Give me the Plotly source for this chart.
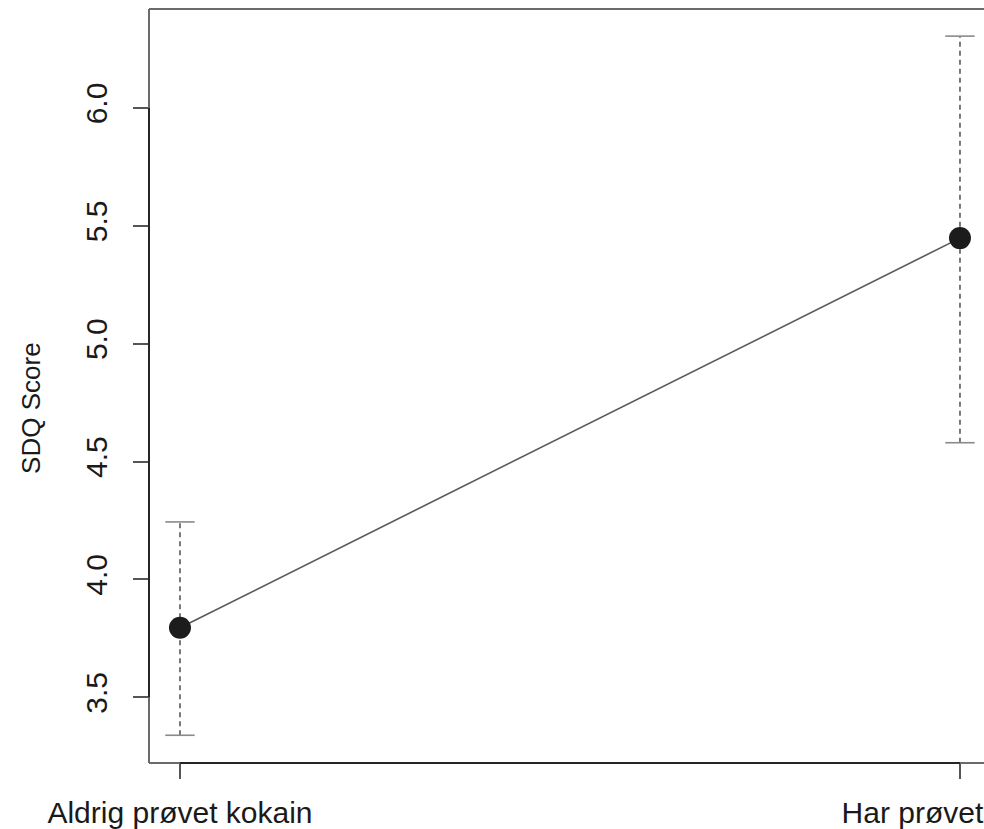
import plotly.graph_objects as go

# ---- data ----
categories = ["Aldrig prøvet kokain", "Har prøvet kokain"]
x_pos = [1, 2]
means = [3.795, 5.448]
upper = [4.244, 6.305]
lower = [3.339, 4.580]
y_ticks = [3.5, 4.0, 4.5, 5.0, 5.5, 6.0]
y_tick_labels = ["3.5", "4.0", "4.5", "5.0", "5.5", "6.0"]
y_title = "SDQ Score"

FONT = "Liberation Sans, Arial, sans-serif"
DARK = "#262626"
BOX = "#6a6a6a"
GREY = "#595959"

fig = go.Figure()

# dashed error-bar stems
for xi, lo, hi in zip(x_pos, lower, upper):
    fig.add_trace(go.Scatter(
        x=[xi, xi], y=[lo, hi], mode="lines",
        line=dict(color=GREY, width=1.6, dash="5px,4px"),
        hoverinfo="skip", showlegend=False))

# caps
fig.add_trace(go.Scatter(
    x=x_pos + x_pos, y=upper + lower, mode="markers",
    marker=dict(symbol="line-ew-open", size=21, color="#8a8a8a",
                line=dict(color="#8a8a8a", width=1.6)),
    hoverinfo="skip", showlegend=False))

# connecting line + points
fig.add_trace(go.Scatter(
    x=x_pos, y=means, mode="lines",
    line=dict(color=GREY, width=1.6),
    showlegend=False))
fig.add_trace(go.Scatter(
    x=x_pos, y=means, mode="markers",
    marker=dict(color="#1c1c1c", size=22, line=dict(width=0)),
    showlegend=False))

# box (grey) and axis segments (dark), R style
shapes = [
    dict(type="line", xref="paper", yref="paper", x0=0, x1=0, y0=0, y1=1,
         line=dict(color=BOX, width=2)),
    dict(type="line", xref="paper", yref="paper", x0=0, x1=1, y0=1, y1=1,
         line=dict(color=BOX, width=2)),
    dict(type="line", xref="paper", yref="paper", x0=0, x1=1, y0=0, y1=0,
         line=dict(color=BOX, width=2)),
    dict(type="line", xref="paper", yref="y", x0=0, x1=0,
         y0=y_ticks[0], y1=y_ticks[-1], line=dict(color=DARK, width=2)),
    dict(type="line", xref="x", yref="paper", x0=x_pos[0], x1=x_pos[-1],
         y0=0, y1=0, line=dict(color=DARK, width=2)),
]

fig.update_layout(
    width=984, height=829,
    margin=dict(l=149, r=0, t=9, b=66, pad=0),
    paper_bgcolor="white", plot_bgcolor="white",
    font=dict(family=FONT, color="#1a1a1a"),
    shapes=shapes,
    showlegend=False,
    xaxis=dict(
        range=[0.9603, 2.0308],
        tickmode="array", tickvals=x_pos, ticktext=categories,
        ticks="outside", ticklen=15, tickwidth=1.6, tickcolor="#555555",
        tickfont=dict(family=FONT, size=30, color="#1a1a1a"),
        showgrid=False, zeroline=False, showline=False,
        automargin=False, ticklabelstandoff=8,
        ticklabeloverflow="allow",
    ),
    yaxis=dict(
        range=[3.2213, 6.420],
        tickmode="array", tickvals=y_ticks, ticktext=y_tick_labels,
        tickangle=-90,
        ticks="outside", ticklen=15, tickwidth=1.6, tickcolor="#555555",
        tickfont=dict(family=FONT, size=30, color="#1a1a1a"),
        showgrid=False, zeroline=False, showline=False,
        automargin=False, ticklabelstandoff=14,
        ticklabeloverflow="allow",
    ),
    annotations=[dict(
        text=y_title, xref="paper", yref="paper",
        x=-0.1413, y=0.471, xanchor="center", yanchor="middle",
        textangle=-90, showarrow=False,
        font=dict(family=FONT, size=26, color="#1a1a1a"),
    )],
)

fig.write_html("out.html", config={"displayModeBar": False},
               post_script="document.body.style.margin='0';")
